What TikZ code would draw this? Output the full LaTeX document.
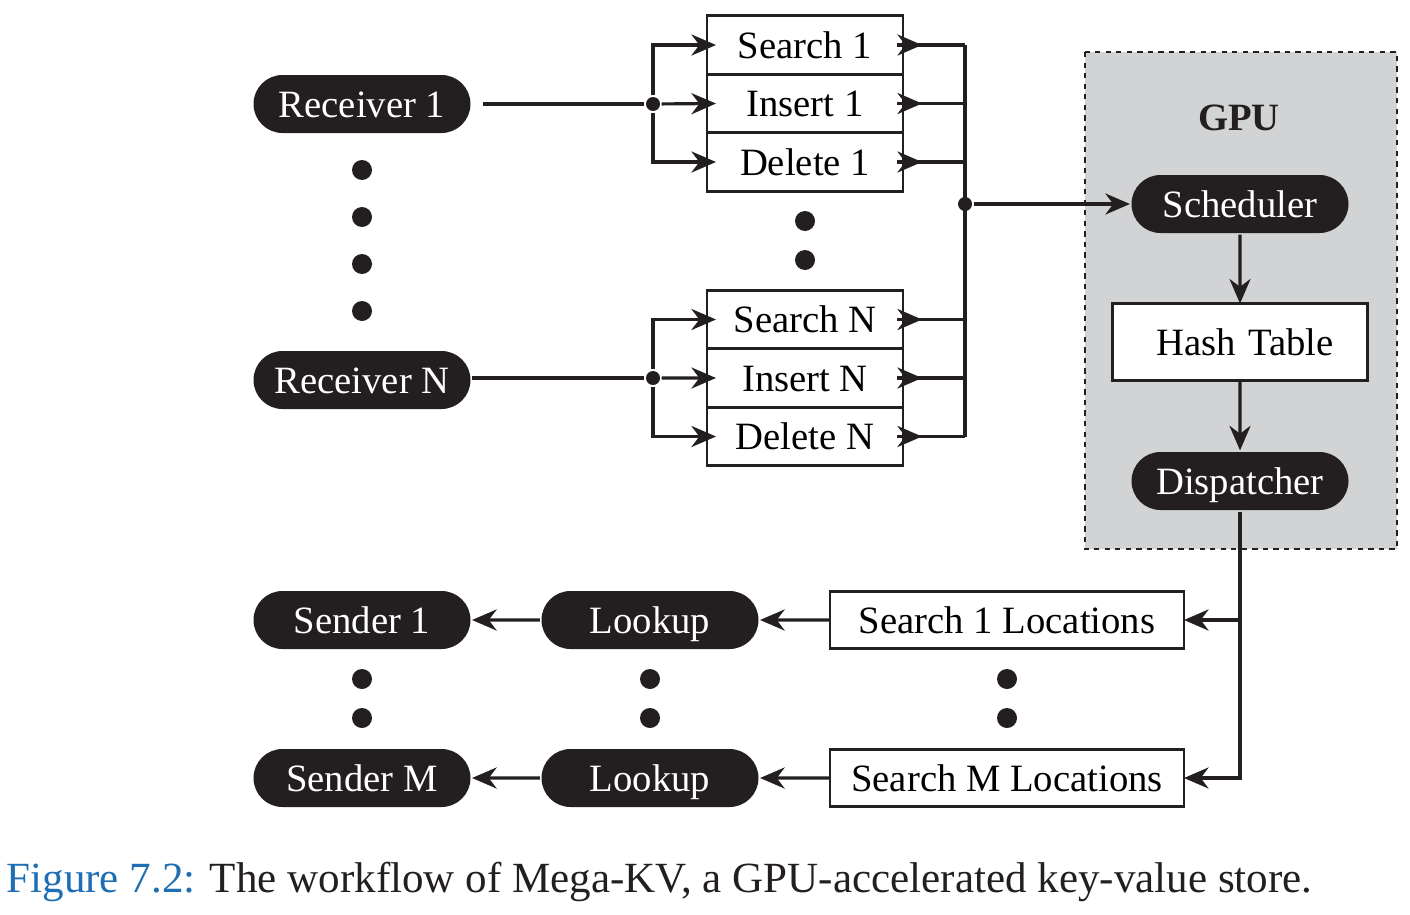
\documentclass[tikz,border=0pt]{standalone}
\usepackage{fontspec}
\setmainfont{Liberation Serif}
\usepackage{tikz}
\usetikzlibrary{positioning, shapes.misc, arrows.meta}
\definecolor{inkblack}{RGB}{35,31,32}
\definecolor{gpugray}{RGB}{209,211,212}
\definecolor{capblue}{RGB}{30,110,180}
\tikzset{pill node/.style={rounded rectangle,fill=inkblack,text=white,minimum width=4.34cm,minimum height=1.16cm,inner sep=0pt,text height=16pt,text depth=1pt,font=\fontsize{22}{26}\selectfont},
box node/.style={rectangle,draw=inkblack,fill=white,line width=1.5pt,minimum width=3.92cm,minimum height=1.17cm,inner sep=0pt,outer sep=0pt,text height=16pt,text depth=1pt,font=\fontsize{22}{26}\selectfont},
dot node/.style={circle,fill=inkblack,minimum size=0.4cm,inner sep=0pt},
junction node/.style={circle,fill=inkblack,minimum size=0.28cm,inner sep=0pt},
arr/.style={-{Stealth[length=14pt,width=12pt,inset=4.5pt]}}}

\begin{document}
\begin{tikzpicture}[line width=1.8pt, draw=inkblack]
            \useasboundingbox (0,0) rectangle (28.2,-18.3);

            % GPU area
            \draw[fill=gpugray, dashed, line width=1.5pt] (21.7,-1.04) rectangle (27.94,-10.98);
            \node[font=\bfseries\fontsize{22}{26}\selectfont, text=inkblack] (gpu) at (24.78,-2.36) {GPU};

            % receivers and requests
            \node[pill node] (R1) at (7.24,-2.08) {Receiver 1};
            \node[pill node] (RN) at (7.24,-7.6) {Receiver N};
            \node[box node] (S1) at (16.1,-0.9) {Search 1};
            \node[box node] (I1) [below = 0pt of S1] {Insert 1};
            \node[box node] (D1) [below = 0pt of I1] {Delete 1};
            \node[box node] (SN) at (16.1,-6.39) {Search N};
            \node[box node] (IN) [below = 0pt of SN] {Insert N};
            \node[box node] (DN) [below = 0pt of IN] {Delete N};
            \node[junction node] (J1) at (13.06,-2.08) {};
            \node[junction node] (JN) at (13.06,-7.56) {};
            \node[junction node] (JB) at (19.3,-4.08) {};
            \foreach \y in {-3.4,-4.34,-5.28,-6.22}
                \node[dot node] at (7.24,\y) {};
            \foreach \y in {-4.42,-5.2}
                \node[dot node] at (16.1,\y) {};

            % GPU nodes
            \node[pill node] (SC) at (24.8,-4.08) {Scheduler};
            \node[box node, minimum width=5.1cm, minimum height=1.54cm, text width=4.6cm, align=center] (HT) at (24.8,-6.84) {\hspace*{0.2cm}Hash Table};
            \node[pill node] (DP) at (24.8,-9.62) {Dispatcher};

            % senders
            \node[box node, minimum width=7.08cm, minimum height=1.15cm] (L1) at (20.14,-12.4) {Search 1 Locations};
            \node[box node, minimum width=7.08cm, minimum height=1.15cm] (LM) at (20.14,-15.56) {Search M Locations};
            \node[pill node] (K1) at (13.0,-12.4) {Lookup};
            \node[pill node] (KM) at (13.0,-15.56) {Lookup};
            \node[pill node] (T1) at (7.24,-12.4) {Sender 1};
            \node[pill node] (TM) at (7.24,-15.56) {Sender M};
            \foreach \x in {7.24,13.0,20.14}
                \foreach \y in {-13.58,-14.36}
                    \node[dot node] at (\x,\y) {};

            \coordinate (DB) at (24.8,-12.4);

            % connectors
            \draw[shorten <=0.22cm] (R1.east) -- (J1);
            \draw (RN.east |- JN) -- (JN);
            \foreach \j/\a/\b/\c in {J1/S1/I1/D1, JN/SN/IN/DN} {
                \draw[arr] (\j) |- ([xshift=0.18cm]\a.west);
                \draw[arr] (\j) -- ([xshift=0.18cm]\b.west);
                \draw[arr] (\j) |- ([xshift=0.18cm]\c.west);
            }
            \foreach \n in {S1,I1,D1,SN,IN,DN} {
                \draw[arr] ([xshift=-0.12cm]\n.east) -- ++(0.5,0);
                \draw (\n.east) -- (\n.east -| JB);
            }
            \draw (S1.east -| JB) -- (DN.east -| JB);
            \draw[arr] (JB) -- (SC.west);
            \draw[arr] (SC) -- (HT);
            \draw[arr] (HT) -- (DP);
            \draw[arr] (DP.south) |- (LM.east);
            \draw[arr] (DB) -- (L1.east);
            \draw[arr] (L1) -- (K1);
            \draw[arr] (LM) -- (KM);
            \draw[arr] (K1) -- (T1);
            \draw[arr] (KM) -- (TM);

            % caption
            \node[anchor=west, inner sep=0pt, font=\fontsize{24.5}{28}\selectfont, text=inkblack] (cap) at (0.1,-17.64) {\textcolor{capblue}{Figure 7.2:} The workflow of Mega-KV, a GPU-accelerated key-value store.};
        \end{tikzpicture}
\end{document}
